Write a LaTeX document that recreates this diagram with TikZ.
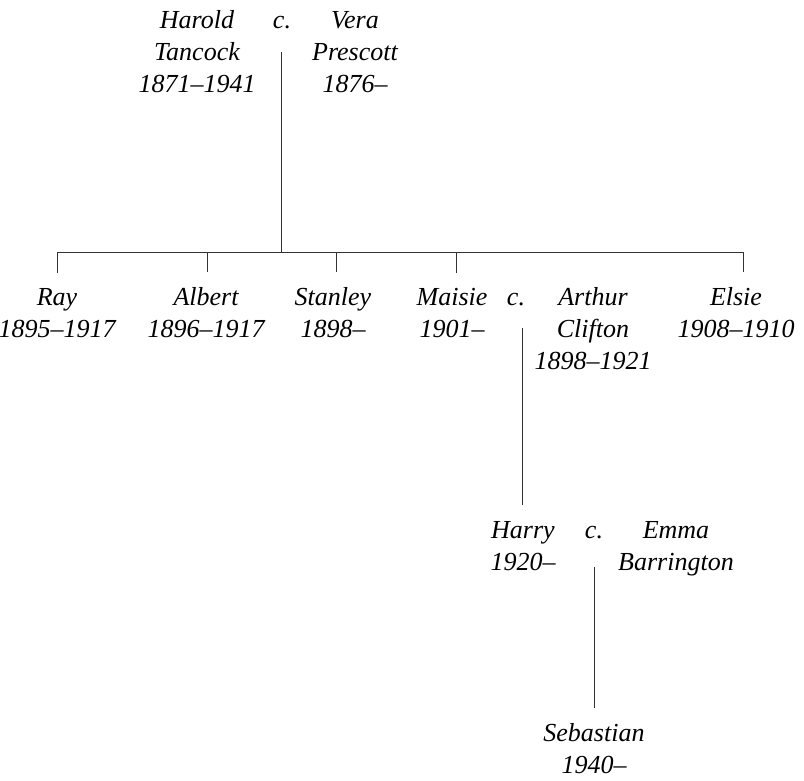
\documentclass[tikz,border=0pt]{standalone}
\usepackage{fontspec}
\setmainfont{Liberation Serif}
\usetikzlibrary{positioning,calc}
\tikzset{
    person/.style={align=center, inner sep=0pt, anchor=base, font=\fontsize{26}{32}\selectfont\itshape},
    wed/.style={inner sep=0pt, anchor=base, font=\fontsize{26}{32}\selectfont\itshape},
    line/.style={draw=black!80, line width=0.9pt}
}
\begin{document}
\begin{tikzpicture}[x=1pt, y=-1pt]
    \useasboundingbox[fill=white] (0,0) rectangle (804,781);
    % first generation (base = last line)
    \node[person] (harold) at (197,93) {Harold\\Tancock\\1871--1941};
    \node[wed] (cA) at (282,29) {c.};
    \node[person] (vera) at (355,93) {Vera\\Prescott\\1876--};
    % children
    \node[person] (ray) at (57,337) {Ray\\1895--1917};
    \node[person] (albert) at (206,337) {Albert\\1896--1917};
    \node[person] (stanley) at (333,337) {Stanley\\1898--};
    \node[person] (maisie) at (452,337) {Maisie\\1901--};
    \node[wed] (cB) at (516,305) {c.};
    \node[person] (arthur) at (593,369) {Arthur\\Clifton\\1898--1921};
    \node[person] (elsie) at (736,337) {Elsie\\1908--1910};
    % grandchildren
    \node[person] (harry) at (523,570) {Harry\\1920--};
    \node[wed] (cC) at (594,538) {c.};
    \node[person] (emma) at (676,570) {Emma\\Barrington};
    \node[person] (sebastian) at (594,773) {Sebastian\\1940--};

    \coordinate (topA) at (281,52);
    \coordinate (bar) at (281,252);
    \coordinate (dRay) at (57,252);
    \coordinate (dAlbert) at (207,252);
    \coordinate (dStanley) at (336,252);
    \coordinate (dMaisie) at (456,252);
    \coordinate (dElsie) at (743,252);
    \coordinate (topB) at (522,328);
    \coordinate (topC) at (594,567);

    \draw[line] (topA) -- (bar);
    \draw[line] (dRay) -- (dElsie);
    \foreach \d/\c in {dRay/ray, dAlbert/albert, dStanley/stanley, dMaisie/maisie, dElsie/elsie}
        \draw[line, shorten >=15pt] (\d) -- (\d |- \c.north);
    \draw[line, shorten >=16pt] (topB) -- (topB |- harry.north);
    \draw[line, shorten >=15pt] (topC) -- (topC |- sebastian.north);
\end{tikzpicture}
\end{document}
